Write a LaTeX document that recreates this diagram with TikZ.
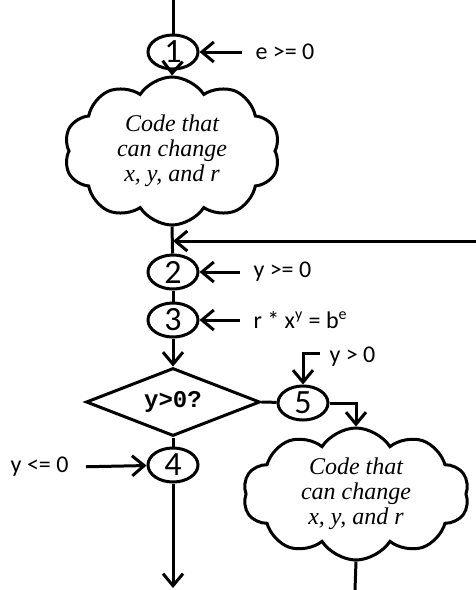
\documentclass[tikz,border=0pt]{standalone}
\usepackage{fontspec}
\setmainfont{Carlito}
\newfontfamily\cloudfont{Liberation Serif}
\newfontfamily\codefont{Liberation Mono}
\usetikzlibrary{arrows.meta,shapes.geometric,shapes.symbols}

\begin{document}
\begin{tikzpicture}[x=0.5pt, y=-0.5pt, line width=1.5pt,
  arr/.style={-{Straight Barb[length=6pt,width=10pt]}},
  point/.style={draw, ellipse, minimum width=25pt, minimum height=17pt, inner sep=0pt, font=\fontsize{17}{17}\selectfont},
  cond/.style={font=\fontsize{12}{14}\selectfont, inner sep=2pt},
  codecloud/.style={draw, cloud, cloud puffs=10, cloud puff arc=115, cloud ignores aspect, inner sep=0pt, align=center, font=\cloudfont\itshape\fontsize{12}{12.5}\selectfont},
  test/.style={draw, diamond, aspect=2.5, minimum width=87pt, minimum height=34pt, inner sep=0pt, font=\codefont\bfseries\fontsize{12}{12}\selectfont}]
  \useasboundingbox (0,0) rectangle (476,590);

  % Main column
  \coordinate (top) at (173,0);
  \node[point] (n1) at (173,52) {1};
  \node[codecloud, minimum width=108pt, minimum height=74pt] (cl1) at (172,151) {Code that\\can change\\x, y, and r};
  \coordinate (join) at (173,241);
  \node[point] (n2) at (173,272) {2};
  \node[point] (n3) at (173,320) {3};
  \node[test] (dec) at (173,402) {y>0?};
  \node[point] (n4) at (173,465) {4};
  \coordinate (bottom) at (173,588);

  % Loop body
  \node[point] (n5) at (303,403) {5};
  \node[codecloud, minimum width=113pt, minimum height=66pt] (cl2) at (356,494) {Code that\\can change\\x, y, and r};
  \coordinate (loopout) at (355,590);
  \coordinate (loopin) at (476,241);

  % Conditions
  \node[cond, anchor=west] (c1) at (250,52) {e >= 0};
  \node[cond, anchor=west] (c2) at (248,272) {y >= 0};
  \node[cond, anchor=west] (c3) at (248,320) {r * x\textsuperscript{y} = b\textsuperscript{e}};
  \node[cond, anchor=east] (c4) at (74,467) {y <= 0};
  \node[cond, anchor=west] (c5) at (324,357) {y > 0};
  \coordinate (c5in) at (320,353);

  % Connectors
  \draw (top) -- (n1);
  \draw[arr] (n1) -- (cl1.north);
  \draw (cl1.south) -- (n2);
  \draw[arr] (loopin) -- (join);
  \draw (n2) -- (n3);
  \draw[arr] (n3) -- (dec.north);
  \draw (dec.south) -- (n4);
  \draw[arr] (n4) -- (bottom);
  \draw (dec.east) -- (n5);
  \draw[arr] (n5.east) -| (cl2.north);
  \draw (cl2.south) -- (loopout);

  \draw[arr, shorten <=4pt] (c1.west) -- (n1);
  \draw[arr, shorten <=4pt] (c2.west) -- (n2);
  \draw[arr, shorten <=4pt] (c3.west) -- (n3);
  \draw[arr, shorten <=6pt] (c4.east) -- (n4);
  \draw[arr] (c5in) -| (n5);
\end{tikzpicture}
\end{document}
